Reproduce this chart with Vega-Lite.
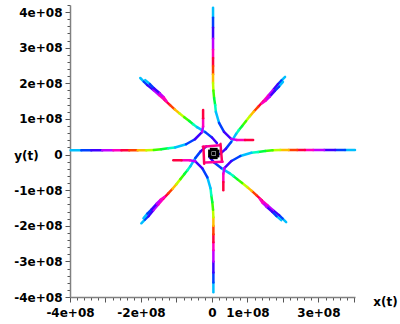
{
"$schema":"https://vega.github.io/schema/vega-lite/v6.json",
"autosize":{"type":"none"},
"padding":{"left":70,"top":5,"right":45,"bottom":27},
"width":285,"height":292,
"background":"white",
"config":{"view":{"stroke":null},"font":"DejaVu Sans"},
"data":{"values":[
{"x":2.06e8,"y":2.18e8,"x2":1.96e8,"y2":2.08e8,"h":0.042},
{"x":1.96e8,"y":2.08e8,"x2":1.86e8,"y2":1.98e8,"h":0.125},
{"x":1.86e8,"y":1.98e8,"x2":1.72e8,"y2":1.81e8,"h":0.208},
{"x":1.72e8,"y":1.81e8,"x2":1.58e8,"y2":1.65e8,"h":0.292},
{"x":1.58e8,"y":1.65e8,"x2":1.44e8,"y2":1.49e8,"h":0.375},
{"x":1.44e8,"y":1.49e8,"x2":1.30e8,"y2":1.34e8,"h":0.458},
{"x":1.30e8,"y":1.34e8,"x2":1.18e8,"y2":1.21e8,"h":0.542},
{"x":1.18e8,"y":1.21e8,"x2":1.07e8,"y2":1.08e8,"h":0.625},
{"x":1.07e8,"y":1.08e8,"x2":0.96e8,"y2":0.94e8,"h":0.708},
{"x":0.96e8,"y":0.94e8,"x2":0.85e8,"y2":0.80e8,"h":0.792},
{"x":0.85e8,"y":0.80e8,"x2":0.76e8,"y2":0.69e8,"h":0.875},
{"x":0.76e8,"y":0.69e8,"x2":0.68e8,"y2":0.58e8,"h":0.958},
{"x":0.68e8,"y":0.58e8,"x2":0.54e8,"y2":0.35e8,"h":0.042},
{"x":0.54e8,"y":0.35e8,"x2":0.39e8,"y2":0.16e8,"h":0.125},
{"x":0.39e8,"y":0.16e8,"x2":0.23e8,"y2":0.02e8,"h":0.208},
{"x":2.09e8,"y":-1.90e8,"x2":1.99e8,"y2":-1.80e8,"h":0.042},
{"x":1.99e8,"y":-1.80e8,"x2":1.89e8,"y2":-1.70e8,"h":0.125},
{"x":1.89e8,"y":-1.70e8,"x2":1.72e8,"y2":-1.56e8,"h":0.208},
{"x":1.72e8,"y":-1.56e8,"x2":1.56e8,"y2":-1.42e8,"h":0.292},
{"x":1.56e8,"y":-1.42e8,"x2":1.40e8,"y2":-1.28e8,"h":0.375},
{"x":1.40e8,"y":-1.28e8,"x2":1.25e8,"y2":-1.14e8,"h":0.458},
{"x":1.25e8,"y":-1.14e8,"x2":1.12e8,"y2":-1.02e8,"h":0.542},
{"x":1.12e8,"y":-1.02e8,"x2":0.99e8,"y2":-0.91e8,"h":0.625},
{"x":0.99e8,"y":-0.91e8,"x2":0.85e8,"y2":-0.80e8,"h":0.708},
{"x":0.85e8,"y":-0.80e8,"x2":0.71e8,"y2":-0.69e8,"h":0.792},
{"x":0.71e8,"y":-0.69e8,"x2":0.60e8,"y2":-0.60e8,"h":0.875},
{"x":0.60e8,"y":-0.60e8,"x2":0.49e8,"y2":-0.52e8,"h":0.958},
{"x":0.49e8,"y":-0.52e8,"x2":0.26e8,"y2":-0.38e8,"h":0.042},
{"x":0.26e8,"y":-0.38e8,"x2":0.07e8,"y2":-0.23e8,"h":0.125},
{"x":0.07e8,"y":-0.23e8,"x2":-0.07e8,"y2":-0.07e8,"h":0.208},
{"x":-1.99e8,"y":-1.93e8,"x2":-1.89e8,"y2":-1.83e8,"h":0.042},
{"x":-1.89e8,"y":-1.83e8,"x2":-1.79e8,"y2":-1.73e8,"h":0.125},
{"x":-1.79e8,"y":-1.73e8,"x2":-1.65e8,"y2":-1.56e8,"h":0.208},
{"x":-1.65e8,"y":-1.56e8,"x2":-1.51e8,"y2":-1.40e8,"h":0.292},
{"x":-1.51e8,"y":-1.40e8,"x2":-1.37e8,"y2":-1.24e8,"h":0.375},
{"x":-1.37e8,"y":-1.24e8,"x2":-1.23e8,"y2":-1.09e8,"h":0.458},
{"x":-1.23e8,"y":-1.09e8,"x2":-1.11e8,"y2":-0.96e8,"h":0.542},
{"x":-1.11e8,"y":-0.96e8,"x2":-1.00e8,"y2":-0.83e8,"h":0.625},
{"x":-1.00e8,"y":-0.83e8,"x2":-0.89e8,"y2":-0.69e8,"h":0.708},
{"x":-0.89e8,"y":-0.69e8,"x2":-0.78e8,"y2":-0.55e8,"h":0.792},
{"x":-0.78e8,"y":-0.55e8,"x2":-0.69e8,"y2":-0.44e8,"h":0.875},
{"x":-0.69e8,"y":-0.44e8,"x2":-0.61e8,"y2":-0.33e8,"h":0.958},
{"x":-0.61e8,"y":-0.33e8,"x2":-0.47e8,"y2":-0.10e8,"h":0.042},
{"x":-0.47e8,"y":-0.10e8,"x2":-0.32e8,"y2":0.09e8,"h":0.125},
{"x":-0.32e8,"y":0.09e8,"x2":-0.16e8,"y2":0.23e8,"h":0.208},
{"x":-2.02e8,"y":2.15e8,"x2":-1.92e8,"y2":2.05e8,"h":0.042},
{"x":-1.92e8,"y":2.05e8,"x2":-1.82e8,"y2":1.95e8,"h":0.125},
{"x":-1.82e8,"y":1.95e8,"x2":-1.65e8,"y2":1.81e8,"h":0.208},
{"x":-1.65e8,"y":1.81e8,"x2":-1.49e8,"y2":1.67e8,"h":0.292},
{"x":-1.49e8,"y":1.67e8,"x2":-1.33e8,"y2":1.53e8,"h":0.375},
{"x":-1.33e8,"y":1.53e8,"x2":-1.18e8,"y2":1.39e8,"h":0.458},
{"x":-1.18e8,"y":1.39e8,"x2":-1.05e8,"y2":1.27e8,"h":0.542},
{"x":-1.05e8,"y":1.27e8,"x2":-0.92e8,"y2":1.16e8,"h":0.625},
{"x":-0.92e8,"y":1.16e8,"x2":-0.78e8,"y2":1.05e8,"h":0.708},
{"x":-0.78e8,"y":1.05e8,"x2":-0.64e8,"y2":0.94e8,"h":0.792},
{"x":-0.64e8,"y":0.94e8,"x2":-0.53e8,"y2":0.85e8,"h":0.875},
{"x":-0.53e8,"y":0.85e8,"x2":-0.42e8,"y2":0.77e8,"h":0.958},
{"x":-0.42e8,"y":0.77e8,"x2":-0.19e8,"y2":0.63e8,"h":0.042},
{"x":-0.19e8,"y":0.63e8,"x2":0.00e8,"y2":0.48e8,"h":0.125},
{"x":0.00e8,"y":0.48e8,"x2":0.14e8,"y2":0.32e8,"h":0.208},
{"x":2.00e8,"y":2.04e8,"x2":1.89e8,"y2":1.91e8,"h":0.042},
{"x":1.89e8,"y":1.91e8,"x2":1.77e8,"y2":1.79e8,"h":0.125},
{"x":1.77e8,"y":1.79e8,"x2":1.63e8,"y2":1.63e8,"h":0.208},
{"x":1.63e8,"y":1.63e8,"x2":1.52e8,"y2":1.52e8,"h":0.292},
{"x":1.52e8,"y":1.52e8,"x2":1.41e8,"y2":1.44e8,"h":0.375},
{"x":1.95e8,"y":-1.84e8,"x2":1.82e8,"y2":-1.73e8,"h":0.042},
{"x":1.82e8,"y":-1.73e8,"x2":1.70e8,"y2":-1.61e8,"h":0.125},
{"x":1.70e8,"y":-1.61e8,"x2":1.54e8,"y2":-1.47e8,"h":0.208},
{"x":1.54e8,"y":-1.47e8,"x2":1.43e8,"y2":-1.36e8,"h":0.292},
{"x":1.43e8,"y":-1.36e8,"x2":1.35e8,"y2":-1.25e8,"h":0.375},
{"x":-1.93e8,"y":-1.79e8,"x2":-1.82e8,"y2":-1.66e8,"h":0.042},
{"x":-1.82e8,"y":-1.66e8,"x2":-1.70e8,"y2":-1.54e8,"h":0.125},
{"x":-1.70e8,"y":-1.54e8,"x2":-1.56e8,"y2":-1.38e8,"h":0.208},
{"x":-1.56e8,"y":-1.38e8,"x2":-1.45e8,"y2":-1.27e8,"h":0.292},
{"x":-1.45e8,"y":-1.27e8,"x2":-1.34e8,"y2":-1.19e8,"h":0.375},
{"x":-1.88e8,"y":2.09e8,"x2":-1.75e8,"y2":1.98e8,"h":0.042},
{"x":-1.75e8,"y":1.98e8,"x2":-1.63e8,"y2":1.86e8,"h":0.125},
{"x":-1.63e8,"y":1.86e8,"x2":-1.47e8,"y2":1.72e8,"h":0.208},
{"x":-1.47e8,"y":1.72e8,"x2":-1.36e8,"y2":1.61e8,"h":0.292},
{"x":-1.36e8,"y":1.61e8,"x2":-1.28e8,"y2":1.50e8,"h":0.375},
{"x":0.03e8,"y":4.12e8,"x2":0.03e8,"y2":3.84e8,"h":0.042},
{"x":0.03e8,"y":3.84e8,"x2":0.03e8,"y2":3.56e8,"h":0.125},
{"x":0.03e8,"y":3.56e8,"x2":0.03e8,"y2":3.25e8,"h":0.208},
{"x":0.03e8,"y":3.25e8,"x2":0.03e8,"y2":2.94e8,"h":0.292},
{"x":0.03e8,"y":2.94e8,"x2":0.03e8,"y2":2.71e8,"h":0.375},
{"x":0.03e8,"y":2.71e8,"x2":0.03e8,"y2":2.49e8,"h":0.458},
{"x":0.03e8,"y":2.49e8,"x2":0.03e8,"y2":2.25e8,"h":0.542},
{"x":0.03e8,"y":2.25e8,"x2":0.03e8,"y2":2.01e8,"h":0.625},
{"x":0.03e8,"y":2.01e8,"x2":0.04e8,"y2":1.80e8,"h":0.708},
{"x":0.04e8,"y":1.80e8,"x2":0.06e8,"y2":1.59e8,"h":0.792},
{"x":0.06e8,"y":1.59e8,"x2":0.09e8,"y2":1.39e8,"h":0.875},
{"x":0.09e8,"y":1.39e8,"x2":0.11e8,"y2":1.20e8,"h":0.958},
{"x":0.11e8,"y":1.20e8,"x2":0.20e8,"y2":0.89e8,"h":0.042},
{"x":0.20e8,"y":0.89e8,"x2":0.34e8,"y2":0.64e8,"h":0.125},
{"x":0.34e8,"y":0.64e8,"x2":0.54e8,"y2":0.44e8,"h":0.208},
{"x":0.54e8,"y":0.44e8,"x2":0.70e8,"y2":0.41e8,"h":0.292},
{"x":0.70e8,"y":0.41e8,"x2":0.93e8,"y2":0.41e8,"h":0.375},
{"x":0.93e8,"y":0.41e8,"x2":1.16e8,"y2":0.41e8,"h":0.458},
{"x":4.03e8,"y":0.13e8,"x2":3.75e8,"y2":0.13e8,"h":0.042},
{"x":3.75e8,"y":0.13e8,"x2":3.47e8,"y2":0.13e8,"h":0.125},
{"x":3.47e8,"y":0.13e8,"x2":3.16e8,"y2":0.13e8,"h":0.208},
{"x":3.16e8,"y":0.13e8,"x2":2.85e8,"y2":0.13e8,"h":0.292},
{"x":2.85e8,"y":0.13e8,"x2":2.62e8,"y2":0.13e8,"h":0.375},
{"x":2.62e8,"y":0.13e8,"x2":2.40e8,"y2":0.13e8,"h":0.458},
{"x":2.40e8,"y":0.13e8,"x2":2.16e8,"y2":0.13e8,"h":0.542},
{"x":2.16e8,"y":0.13e8,"x2":1.92e8,"y2":0.13e8,"h":0.625},
{"x":1.92e8,"y":0.13e8,"x2":1.71e8,"y2":0.12e8,"h":0.708},
{"x":1.71e8,"y":0.12e8,"x2":1.50e8,"y2":0.10e8,"h":0.792},
{"x":1.50e8,"y":0.10e8,"x2":1.30e8,"y2":0.07e8,"h":0.875},
{"x":1.30e8,"y":0.07e8,"x2":1.11e8,"y2":0.05e8,"h":0.958},
{"x":1.11e8,"y":0.05e8,"x2":0.80e8,"y2":-0.04e8,"h":0.042},
{"x":0.80e8,"y":-0.04e8,"x2":0.55e8,"y2":-0.18e8,"h":0.125},
{"x":0.55e8,"y":-0.18e8,"x2":0.35e8,"y2":-0.38e8,"h":0.208},
{"x":0.35e8,"y":-0.38e8,"x2":0.32e8,"y2":-0.54e8,"h":0.292},
{"x":0.32e8,"y":-0.54e8,"x2":0.32e8,"y2":-0.77e8,"h":0.375},
{"x":0.32e8,"y":-0.77e8,"x2":0.32e8,"y2":-1.00e8,"h":0.458},
{"x":0.04e8,"y":-3.87e8,"x2":0.04e8,"y2":-3.59e8,"h":0.042},
{"x":0.04e8,"y":-3.59e8,"x2":0.04e8,"y2":-3.31e8,"h":0.125},
{"x":0.04e8,"y":-3.31e8,"x2":0.04e8,"y2":-3.00e8,"h":0.208},
{"x":0.04e8,"y":-3.00e8,"x2":0.04e8,"y2":-2.69e8,"h":0.292},
{"x":0.04e8,"y":-2.69e8,"x2":0.04e8,"y2":-2.46e8,"h":0.375},
{"x":0.04e8,"y":-2.46e8,"x2":0.04e8,"y2":-2.24e8,"h":0.458},
{"x":0.04e8,"y":-2.24e8,"x2":0.04e8,"y2":-2.00e8,"h":0.542},
{"x":0.04e8,"y":-2.00e8,"x2":0.04e8,"y2":-1.76e8,"h":0.625},
{"x":0.04e8,"y":-1.76e8,"x2":0.03e8,"y2":-1.55e8,"h":0.708},
{"x":0.03e8,"y":-1.55e8,"x2":0.01e8,"y2":-1.34e8,"h":0.792},
{"x":0.01e8,"y":-1.34e8,"x2":-0.02e8,"y2":-1.14e8,"h":0.875},
{"x":-0.02e8,"y":-1.14e8,"x2":-0.04e8,"y2":-0.95e8,"h":0.958},
{"x":-0.04e8,"y":-0.95e8,"x2":-0.13e8,"y2":-0.64e8,"h":0.042},
{"x":-0.13e8,"y":-0.64e8,"x2":-0.27e8,"y2":-0.39e8,"h":0.125},
{"x":-0.27e8,"y":-0.39e8,"x2":-0.47e8,"y2":-0.19e8,"h":0.208},
{"x":-0.47e8,"y":-0.19e8,"x2":-0.63e8,"y2":-0.16e8,"h":0.292},
{"x":-0.63e8,"y":-0.16e8,"x2":-0.86e8,"y2":-0.16e8,"h":0.375},
{"x":-0.86e8,"y":-0.16e8,"x2":-1.09e8,"y2":-0.16e8,"h":0.458},
{"x":-3.98e8,"y":0.12e8,"x2":-3.68e8,"y2":0.12e8,"h":0.042},
{"x":-3.68e8,"y":0.12e8,"x2":-3.40e8,"y2":0.12e8,"h":0.125},
{"x":-3.40e8,"y":0.12e8,"x2":-3.09e8,"y2":0.12e8,"h":0.208},
{"x":-3.09e8,"y":0.12e8,"x2":-2.78e8,"y2":0.12e8,"h":0.292},
{"x":-2.78e8,"y":0.12e8,"x2":-2.55e8,"y2":0.12e8,"h":0.375},
{"x":-2.55e8,"y":0.12e8,"x2":-2.33e8,"y2":0.12e8,"h":0.458},
{"x":-2.33e8,"y":0.12e8,"x2":-2.09e8,"y2":0.12e8,"h":0.542},
{"x":-2.09e8,"y":0.12e8,"x2":-1.85e8,"y2":0.12e8,"h":0.625},
{"x":-1.85e8,"y":0.12e8,"x2":-1.64e8,"y2":0.13e8,"h":0.708},
{"x":-1.64e8,"y":0.13e8,"x2":-1.43e8,"y2":0.15e8,"h":0.792},
{"x":-1.43e8,"y":0.15e8,"x2":-1.23e8,"y2":0.18e8,"h":0.875},
{"x":-1.23e8,"y":0.18e8,"x2":-1.04e8,"y2":0.20e8,"h":0.958},
{"x":-1.04e8,"y":0.20e8,"x2":-0.73e8,"y2":0.29e8,"h":0.042},
{"x":-0.73e8,"y":0.29e8,"x2":-0.48e8,"y2":0.43e8,"h":0.125},
{"x":-0.48e8,"y":0.43e8,"x2":-0.28e8,"y2":0.63e8,"h":0.208},
{"x":-0.28e8,"y":0.63e8,"x2":-0.25e8,"y2":0.79e8,"h":0.292},
{"x":-0.25e8,"y":0.79e8,"x2":-0.25e8,"y2":1.02e8,"h":0.375},
{"x":-0.25e8,"y":1.02e8,"x2":-0.25e8,"y2":1.25e8,"h":0.458},
{"x":-0.26e8,"y":0.22e8,"x2":0.22e8,"y2":0.26e8,"h":0.40},
{"x":0.24e8,"y":0.30e8,"x2":0.28e8,"y2":-0.18e8,"h":0.44},
{"x":0.30e8,"y":-0.20e8,"x2":-0.18e8,"y2":-0.22e8,"h":0.40},
{"x":-0.22e8,"y":-0.26e8,"x2":-0.24e8,"y2":0.22e8,"h":0.44},
{"x":-0.06e8,"y":-0.08e8,"x2":0.16e8,"y2":-0.08e8,"p":"k"},
{"x":0.16e8,"y":-0.08e8,"x2":0.16e8,"y2":0.14e8,"p":"k"},
{"x":0.16e8,"y":0.14e8,"x2":-0.06e8,"y2":0.14e8,"p":"k"},
{"x":-0.06e8,"y":0.14e8,"x2":-0.06e8,"y2":-0.08e8,"p":"k"},
{"x":0.00e8,"y":0.03e8,"x2":0.10e8,"y2":0.03e8,"p":"k"}
]},
"encoding":{
"x":{"field":"x","type":"quantitative","scale":{"domain":[-4e8,4.03e8],"nice":false,"zero":false},
 "axis":{"orient":"bottom","grid":false,"values":[-4e8,-3.8e8,-3.6e8,-3.4e8,-3.2e8,-3e8,-2.8e8,-2.6e8,-2.4e8,-2.2e8,-2e8,-1.8e8,-1.6e8,-1.4e8,-1.2e8,-1e8,-0.8e8,-0.6e8,-0.4e8,-0.2e8,0,0.2e8,0.4e8,0.6e8,0.8e8,1e8,1.2e8,1.4e8,1.6e8,1.8e8,2e8,2.2e8,2.4e8,2.6e8,2.8e8,3e8,3.2e8,3.4e8,3.6e8,3.8e8,4e8],
  "labelExpr":"indexof([-400000000,-200000000,0,100000000,300000000], datum.value) >= 0 ? (datum.value === 0 ? '0' : (datum.value/100000000) + 'e+08') : ''",
  "labelOverlap":false,"labelFlush":false,"labelFont":"DejaVu Sans","labelFontWeight":"bold","labelFontSize":12,"labelColor":"#000","labelPadding":5,
  "tickSize":{"condition":{"test":"datum.value % 100000000 === 0","value":5},"value":3},
  "tickColor":"#555","domainColor":"#808080","domainWidth":1.5,
  "title":"x(t)","titleX":315,"titleY":4,"titleAlign":"center","titleBaseline":"middle","titleAngle":0,"titleFont":"DejaVu Sans","titleFontWeight":"bold","titleFontSize":12,"titleColor":"#000"}},
"y":{"field":"y","type":"quantitative","scale":{"domain":[-4e8,4.2e8],"nice":false,"zero":false},
 "axis":{"orient":"left","grid":false,"values":[-4e8,-3.8e8,-3.6e8,-3.4e8,-3.2e8,-3e8,-2.8e8,-2.6e8,-2.4e8,-2.2e8,-2e8,-1.8e8,-1.6e8,-1.4e8,-1.2e8,-1e8,-0.8e8,-0.6e8,-0.4e8,-0.2e8,0,0.2e8,0.4e8,0.6e8,0.8e8,1e8,1.2e8,1.4e8,1.6e8,1.8e8,2e8,2.2e8,2.4e8,2.6e8,2.8e8,3e8,3.2e8,3.4e8,3.6e8,3.8e8,4e8,4.2e8],
  "labelExpr":"datum.value % 100000000 === 0 ? (datum.value === 0 ? '0' : (datum.value/100000000) + 'e+08') : ''",
  "labelOverlap":false,"labelFlush":false,"labelFont":"DejaVu Sans","labelFontWeight":"bold","labelFontSize":12,"labelColor":"#000","labelPadding":3,
  "tickSize":{"condition":{"test":"datum.value % 100000000 === 0","value":5},"value":3},
  "tickColor":"#555","domainColor":"#808080","domainWidth":1.5,
  "title":"y(t)","titleX":-44,"titleY":150,"titleAlign":"center","titleBaseline":"middle","titleAngle":0,"titleFont":"DejaVu Sans","titleFontWeight":"bold","titleFontSize":12,"titleColor":"#000"}},
"x2":{"field":"x2"},
"y2":{"field":"y2"}
},
"layer":[
{"transform":[{"filter":"datum.p !== 'k'"}],
 "mark":{"type":"rule","strokeWidth":2.5,"strokeCap":"round"},
 "encoding":{"color":{"field":"h","type":"quantitative","legend":null,
   "scale":{"domain":[0,0.1667,0.3333,0.5,0.6667,0.8333,1],"range":["#00ffff","#0000ff","#ff00ff","#ff0000","#ffff00","#00ff00","#00ffff"],"interpolate":"rgb"}}}},
{"transform":[{"filter":"datum.p === 'k'"}],
 "mark":{"type":"rule","strokeWidth":3.5,"color":"#000"}}
]
}
